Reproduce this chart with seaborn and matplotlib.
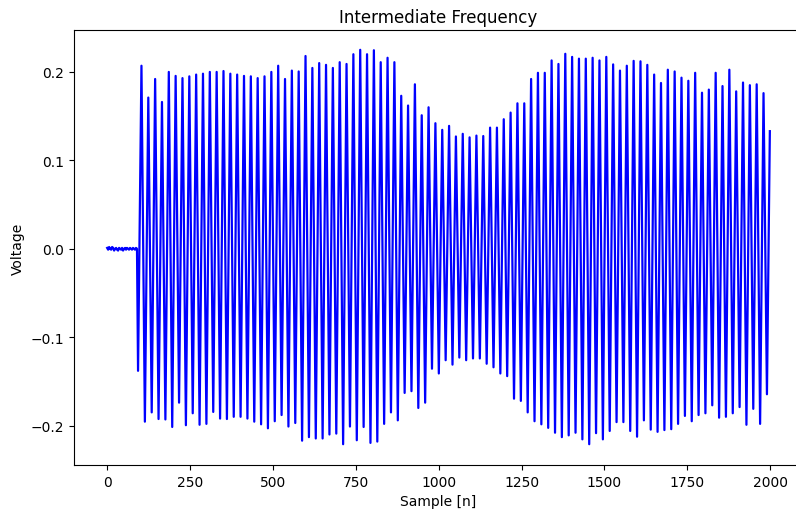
import numpy as np
import pandas as pd
import matplotlib
matplotlib.use("Agg")
import matplotlib.pyplot as plt
import seaborn as sns

# Idle noise before the burst starts (samples 0..90, every 3 samples)
noise_vals = [0.001, -0.001, 0.002, 0.000, -0.001, 0.002, 0.001, -0.002,
              0.000, 0.001, -0.001, -0.002, 0.001, 0.000, -0.001, 0.001,
              -0.002, 0.000, 0.001, -0.001, 0.001, 0.000, -0.001, 0.001,
              0.000, -0.001, 0.001, 0.000, -0.001, 0.001, 0.000]

# First sample of the burst (a trough)
burst_start = -0.138

# Per-cycle maxima of the IF burst
peaks = [0.207, 0.171, 0.192, 0.166, 0.200, 0.1955, 0.193, 0.195, 0.197, 0.198,
         0.200, 0.200, 0.201, 0.198, 0.197, 0.1955, 0.195, 0.193, 0.195, 0.200,
         0.207, 0.192, 0.2015, 0.2005, 0.218, 0.2045, 0.210, 0.208, 0.2045, 0.211,
         0.209, 0.220, 0.225, 0.220, 0.2245, 0.211, 0.216, 0.211, 0.173, 0.162,
         0.186, 0.151, 0.160, 0.142, 0.1345, 0.139, 0.127, 0.130, 0.126, 0.128,
         0.1275, 0.137, 0.137, 0.1465, 0.154, 0.1645, 0.1645, 0.192, 0.199, 0.199,
         0.213, 0.209, 0.2205, 0.217, 0.215, 0.215, 0.216, 0.213, 0.217, 0.2085,
         0.2015, 0.207, 0.2125, 0.212, 0.208, 0.197, 0.1875, 0.2025, 0.2005, 0.1935,
         0.190, 0.199, 0.1765, 0.180, 0.199, 0.184, 0.2025, 0.178, 0.188, 0.185,
         0.186, 0.176]

# Per-cycle minima of the IF burst
troughs = [-0.1955, -0.185, -0.1925, -0.193, -0.2015, -0.174, -0.1995, -0.186, -0.199, -0.198,
           -0.1845, -0.192, -0.1925, -0.190, -0.190, -0.192, -0.1955, -0.1985, -0.203, -0.195,
           -0.188, -0.201, -0.197, -0.217, -0.213, -0.2145, -0.2145, -0.210, -0.209, -0.221,
           -0.201, -0.2165, -0.2015, -0.2195, -0.218, -0.198, -0.185, -0.194, -0.163, -0.161,
           -0.180, -0.174, -0.1356, -0.141, -0.126, -0.131, -0.123, -0.126, -0.124, -0.124,
           -0.130, -0.134, -0.141, -0.144, -0.1695, -0.172, -0.185, -0.195, -0.1985, -0.2025,
           -0.208, -0.213, -0.211, -0.208, -0.2155, -0.221, -0.2085, -0.2155, -0.206, -0.196,
           -0.196, -0.206, -0.2125, -0.194, -0.2045, -0.207, -0.205, -0.204, -0.198, -0.189,
           -0.195, -0.188, -0.186, -0.177, -0.191, -0.190, -0.186, -0.179, -0.199, -0.181,
           -0.198, -0.1645]

# Last recorded sample
burst_end = 0.133

# Sampling layout of the record
noise_step = 3
start_n = 93.2
first_peak_n = 103.5
period = 20.62
last_n = 1999

n_vals = [i * noise_step for i in range(len(noise_vals))] + [start_n]
v_vals = list(noise_vals) + [burst_start]
for i, (p, t) in enumerate(zip(peaks, troughs)):
    n_vals += [first_peak_n + i * period, first_peak_n + i * period + period / 2]
    v_vals += [p, t]
n_vals.append(last_n)
v_vals.append(burst_end)

df = pd.DataFrame({"n": n_vals, "v": v_vals})

fig = plt.figure(figsize=(7.96, 5.10), dpi=100)
ax = fig.add_axes([74 / 796, 1 - 466 / 510, 729 / 796, 435 / 510])
sns.lineplot(data=df, x="n", y="v", color="blue", linewidth=1.6,
             estimator=None, sort=False, ax=ax)
ax.set_xlim(-100, 2099)
ax.set_ylim(-0.2445, 0.2474)
ax.set_title("Intermediate Frequency")
ax.set_xlabel("Sample [n]")
ax.set_ylabel("Voltage")
fig.savefig("out.png", dpi=100)
